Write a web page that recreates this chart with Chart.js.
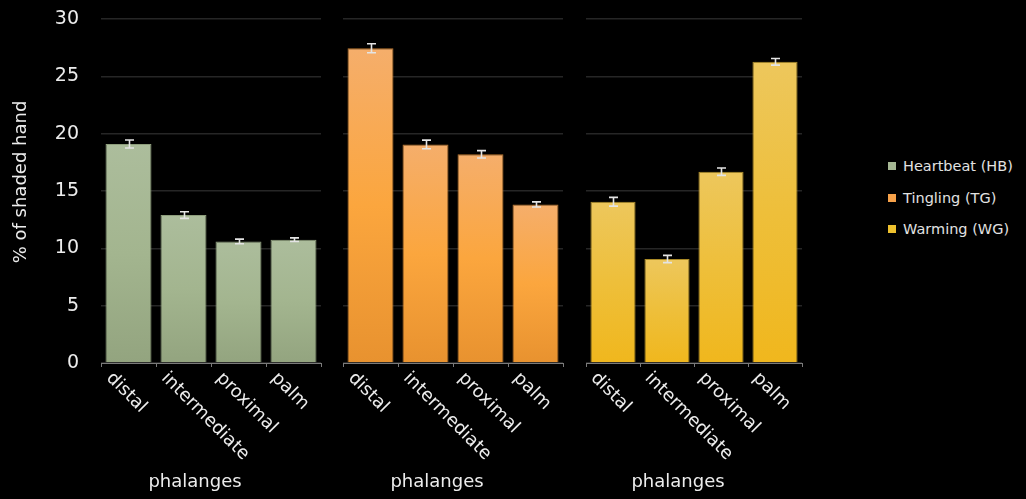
<!DOCTYPE html>
<html><head><meta charset="utf-8">
<script src="https://cdn.jsdelivr.net/npm/chart.js@4.4.1/dist/chart.umd.min.js"></script>
<style>
html,body{margin:0;padding:0;background:#000;width:1026px;height:499px;overflow:hidden;}
.c{position:absolute;top:0;height:499px;}
#legend{position:absolute;left:888px;top:0;font-family:'DejaVu Sans',sans-serif;font-size:14.5px;color:#e2e2e2;}
#legend .row{position:absolute;left:0;white-space:nowrap;height:16px;line-height:16px;}
#legend .sw{position:absolute;left:0;top:4px;width:8px;height:8px;}
#legend .tx{position:absolute;left:15px;top:0;}
</style></head><body>
<canvas id="c1" class="c" width="330" height="499" style="left:0px"></canvas>
<canvas id="c2" class="c" width="245" height="499" style="left:330px"></canvas>
<canvas id="c3" class="c" width="240" height="499" style="left:575px"></canvas>
<div id="legend"></div>
<script>
// ---- data ----
const categories = ['distal', 'intermediate', 'proximal', 'palm'];
const seriesNames = ['Heartbeat (HB)', 'Tingling (TG)', 'Warming (WG)'];
const heartbeat = [19.1, 12.9, 10.6, 10.75];
const heartbeatErr = [0.35, 0.29, 0.2, 0.16];
const tingling = [27.45, 19.06, 18.2, 13.83];
const tinglingErr = [0.39, 0.38, 0.32, 0.22];
const warming = [14.06, 9.07, 16.68, 26.27];
const warmingErr = [0.38, 0.32, 0.32, 0.29];
const yTickValues = [0, 5, 10, 15, 20, 25, 30];
const xTitle = 'phalanges';
const yTitle = '% of shaded hand';

// ---- styles ----
const FONT = "'DejaVu Sans', sans-serif";
const TEXT = '#ececec';
const gradients = [
  ['#acbd9c', '#a3b58f', '#93a47f'],
  ['#f5ae6b', '#fba63e', '#e8922f'],
  ['#edc75c', '#eebf3a', '#f0b71d']
];
const borders = ['#8d9d7b', '#b8742b', '#aa8a26'];
const legendColors = ['#a6b894', '#f7a24a', '#eec12e'];

function barFill(idx) {
  return function (context) {
    const chart = context.chart;
    const ys = chart.scales.y;
    if (!ys || !chart.chartArea || context.dataIndex === undefined) return gradients[idx][1];
    const v = context.dataset.data[context.dataIndex];
    const top = ys.getPixelForValue(v);
    const bot = ys.getPixelForValue(0);
    const g = chart.ctx.createLinearGradient(0, top, 0, bot);
    g.addColorStop(0, gradients[idx][0]);
    g.addColorStop(0.5, gradients[idx][1]);
    g.addColorStop(1, gradients[idx][2]);
    return g;
  };
}

const overlay = {
  id: 'overlay',
  afterDatasetsDraw(chart, args, opts) {
    const ctx = chart.ctx, xs = chart.scales.x, ys = chart.scales.y;
    const data = chart.data.datasets[0].data;
    ctx.save();
    ctx.strokeStyle = '#e4e4e4';
    ctx.lineWidth = 1.6;
    data.forEach((v, i) => {
      const px = Math.round(xs.getPixelForValue(i)) + 0.5;
      const y1 = ys.getPixelForValue(v + opts.err[i]);
      const y2 = ys.getPixelForValue(v - opts.err[i]);
      ctx.beginPath();
      ctx.moveTo(px, y1); ctx.lineTo(px, y2);
      ctx.moveTo(px - 4.5, y1); ctx.lineTo(px + 4.5, y1);
      ctx.moveTo(px - 4.5, y2); ctx.lineTo(px + 4.5, y2);
      ctx.stroke();
    });
    ctx.restore();
  },
  afterDraw(chart, args, opts) {
    const ctx = chart.ctx, xs = chart.scales.x, area = chart.chartArea;
    ctx.save();
    ctx.fillStyle = TEXT;
    ctx.font = '18px ' + FONT;
    ctx.textAlign = 'left';
    ctx.textBaseline = 'top';
    chart.data.labels.forEach((lab, i) => {
      const px = xs.getPixelForValue(i);
      ctx.save();
      ctx.translate(px - 13, area.bottom + 6);
      ctx.rotate(Math.PI / 4);
      ctx.fillText(lab, 0, 0);
      ctx.restore();
    });
    ctx.textAlign = 'center';
    ctx.textBaseline = 'middle';
    ctx.fillText(xTitle, (area.left + area.right) / 2 - 16, chart.height - 17);
    if (opts.yTitle) {
      ctx.save();
      ctx.translate(21, 182);
      ctx.rotate(-Math.PI / 2);
      ctx.fillText(yTitle, 0, 0);
      ctx.restore();
    }
    ctx.restore();
  }
};

function makeChart(id, idx, values, errs, showY, pad) {
  return new Chart(document.getElementById(id), {
    type: 'bar',
    data: {
      labels: categories,
      datasets: [{
        label: seriesNames[idx],
        data: values,
        backgroundColor: barFill(idx),
        borderColor: borders[idx],
        borderWidth: 1,
        categoryPercentage: 1,
        barPercentage: 0.836
      }]
    },
    options: {
      responsive: false,
      animation: false,
      devicePixelRatio: 1,
      layout: { padding: pad },
      plugins: {
        legend: { display: false },
        tooltip: { enabled: false },
        overlay: { err: errs, yTitle: showY }
      },
      scales: {
        x: {
          offset: true,
          ticks: { display: false },
          grid: { drawOnChartArea: false, drawTicks: true, tickLength: 4, color: '#7a7a7a', lineWidth: 1, offset: true },
          border: { display: true, color: '#7a7a7a', width: 1 },
          afterFit(scale) { scale.height = 499 - 363 - pad.bottom; }
        },
        y: {
          min: 0, max: 30,
          afterBuildTicks(scale) { scale.ticks = yTickValues.map(v => ({ value: v })); },
          ticks: { display: showY, color: TEXT, font: { family: FONT, size: 19 }, padding: 3 },
          grid: { color: '#262626', lineWidth: 1.6, drawTicks: showY, tickLength: 19, tickColor: 'rgba(0,0,0,0)' },
          border: { display: false },
          afterFit(scale) { scale.width = showY ? 101 - pad.left : 0; }
        }
      }
    },
    plugins: [overlay]
  });
}

makeChart('c1', 0, heartbeat, heartbeatErr, true, { top: 19, left: 0, right: 9, bottom: 0 });
makeChart('c2', 1, tingling, tinglingErr, false, { top: 19, left: 13, right: 12, bottom: 0 });
makeChart('c3', 2, warming, warmingErr, false, { top: 19, left: 11, right: 13, bottom: 0 });

// legend
const legendTops = [158, 190, 221];
const leg = document.getElementById('legend');
seriesNames.forEach((name, i) => {
  const row = document.createElement('div');
  row.className = 'row';
  row.style.top = legendTops[i] + 'px';
  row.innerHTML = '<span class="sw" style="background:' + legendColors[i] + '"></span><span class="tx">' + name + '</span>';
  leg.appendChild(row);
});
</script>
</body></html>
